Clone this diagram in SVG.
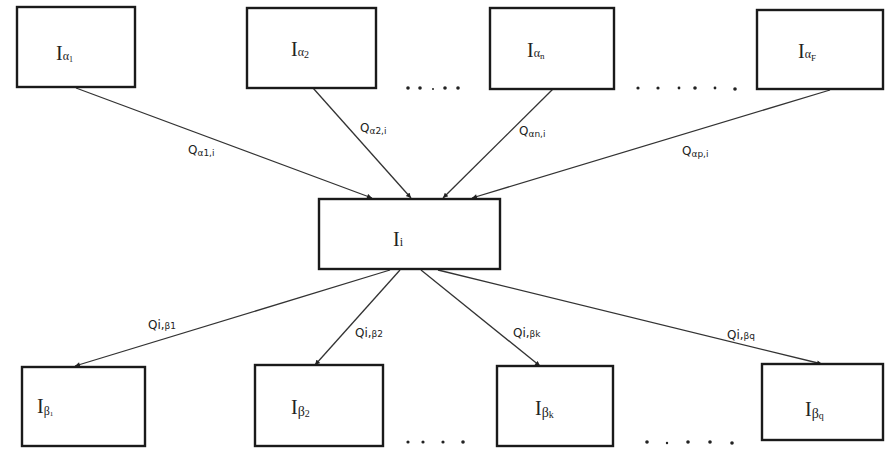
<svg xmlns="http://www.w3.org/2000/svg" width="885" height="449" viewBox="0 0 885 449">
<style>
.box{fill:#fff;stroke:#1a1a1a;stroke-width:2.4}
.con{stroke:#333;stroke-width:1.3;fill:none}
.lbl{font-family:"Liberation Serif",serif;fill:#222}
.q{font-family:"DejaVu Sans",sans-serif;font-size:12px;fill:#222}
.s{font-size:9px}
.dot{fill:#222}
</style>
<defs>
<marker id="ah" viewBox="0 0 10 10" refX="10" refY="5" markerWidth="7" markerHeight="5" orient="auto" markerUnits="userSpaceOnUse">
<path d="M0,0 L10,5 L0,10 z" fill="#222"/>
</marker>
</defs>
<rect width="885" height="449" fill="#fff"/>
<g id="connectors">
<line class="con" x1="76" y1="88" x2="372" y2="198" marker-end="url(#ah)"/>
<line class="con" x1="313" y1="88" x2="411" y2="198" marker-end="url(#ah)"/>
<line class="con" x1="553" y1="89" x2="443" y2="198" marker-end="url(#ah)"/>
<line class="con" x1="830" y1="90" x2="472" y2="198" marker-end="url(#ah)"/>
<line class="con" x1="390" y1="270" x2="75" y2="366" marker-end="url(#ah)"/>
<line class="con" x1="400" y1="270" x2="315" y2="365" marker-end="url(#ah)"/>
<line class="con" x1="421" y1="270" x2="540" y2="366" marker-end="url(#ah)"/>
<line class="con" x1="438" y1="270" x2="822" y2="364" marker-end="url(#ah)"/>
<text class="q" x="188" y="154">Q<tspan class="s" dy="2">α1,i</tspan></text>
<text class="q" x="360" y="132">Q<tspan class="s" dy="2">α2,i</tspan></text>
<text class="q" x="519" y="135">Q<tspan class="s" dy="2">αn,i</tspan></text>
<text class="q" x="682" y="155">Q<tspan class="s" dy="2">αp,i</tspan></text>
<text class="q" x="148" y="329">Qi,<tspan class="s">β1</tspan></text>
<text class="q" x="355" y="337">Qi,<tspan class="s">β2</tspan></text>
<text class="q" x="513" y="337">Qi,<tspan class="s">βk</tspan></text>
<text class="q" x="727" y="339">Qi,<tspan class="s">βq</tspan></text>
</g>
<g id="n_a1"><rect class="box" x="17" y="7" width="118" height="80"/><text class="lbl" x="56" y="60" font-size="20">I<tspan font-size="12">α</tspan><tspan font-size="8" dy="2">1</tspan></text></g>
<g id="n_a2"><rect class="box" x="247" y="8" width="129" height="80"/><text class="lbl" x="291" y="56" font-size="20">I<tspan font-size="12">α</tspan><tspan font-size="10" dy="2">2</tspan></text></g>
<g id="n_an"><rect class="box" x="490" y="8" width="124" height="81"/><text class="lbl" x="527" y="57" font-size="20">I<tspan font-size="12">α</tspan><tspan font-size="9" dy="2">n</tspan></text></g>
<g id="n_ap"><rect class="box" x="757" y="10" width="126" height="79"/><text class="lbl" x="798" y="58" font-size="20">I<tspan font-size="12">α</tspan><tspan font-size="9" dy="3">F</tspan></text></g>
<g id="n_i"><rect class="box" x="319" y="199" width="181" height="70"/><text class="lbl" x="393" y="246" font-size="20">I<tspan font-size="12">i</tspan></text></g>
<g id="n_b1"><rect class="box" x="22" y="367" width="123" height="79"/><text class="lbl" x="37" y="413" font-size="20">I<tspan font-size="12" dy="2">β</tspan><tspan font-size="7" dy="1">1</tspan></text></g>
<g id="n_b2"><rect class="box" x="255" y="365" width="128" height="81"/><text class="lbl" x="291" y="414" font-size="20">I<tspan font-size="14" dy="2">β</tspan><tspan font-size="10" dy="1">2</tspan></text></g>
<g id="n_bk"><rect class="box" x="497" y="366" width="116" height="80"/><text class="lbl" x="535" y="415" font-size="20">I<tspan font-size="14" dy="2">β</tspan><tspan font-size="10" dy="1">k</tspan></text></g>
<g id="n_bq"><rect class="box" x="762" y="364" width="121" height="76"/><text class="lbl" x="805" y="416" font-size="20">I<tspan font-size="14" dy="2">β</tspan><tspan font-size="10" dy="1">q</tspan></text></g>
<g id="dots">
<circle class="dot" cx="408" cy="88" r="1.8"/><circle class="dot" cx="420" cy="88" r="1.8"/><circle class="dot" cx="433" cy="89" r="1"/><circle class="dot" cx="445" cy="88" r="1.8"/><circle class="dot" cx="458" cy="88" r="1.8"/>
<circle class="dot" cx="638" cy="88" r="1.6"/><circle class="dot" cx="658" cy="88" r="1.6"/><circle class="dot" cx="679" cy="88" r="1.4"/><circle class="dot" cx="695" cy="88" r="1.8"/><circle class="dot" cx="715" cy="88" r="1.4"/><circle class="dot" cx="735" cy="89" r="1.8"/>
<circle class="dot" cx="408" cy="442" r="1.6"/><circle class="dot" cx="423" cy="442" r="1.6"/><circle class="dot" cx="443" cy="442" r="1.6"/><circle class="dot" cx="463" cy="442" r="1.8"/>
<circle class="dot" cx="647" cy="442" r="1.8"/><circle class="dot" cx="667" cy="443" r="1.2"/><circle class="dot" cx="688" cy="442" r="1.8"/><circle class="dot" cx="710" cy="442" r="1.8"/><circle class="dot" cx="732" cy="443" r="1.8"/>
</g>
</svg>
